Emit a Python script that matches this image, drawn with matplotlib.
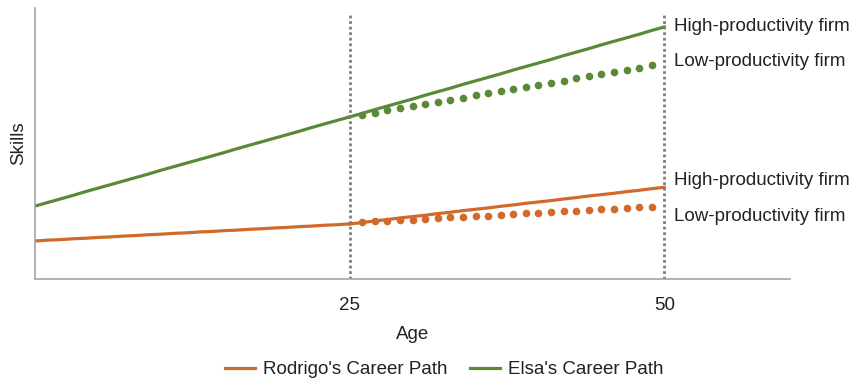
import matplotlib
matplotlib.use("Agg")
import matplotlib.pyplot as plt

plt.rcParams['font.family'] = ['Liberation Sans', 'DejaVu Sans']

# ages
ages_early = list(range(0, 26))
ages_late = list(range(25, 51))
ages_low = list(range(26, 50))

# Elsa (green)
elsa_early = [26.9, 28.2, 29.5, 30.8, 32.2, 33.5, 34.8, 36.1, 37.4, 38.7, 40.1, 41.4, 42.7,
              44.0, 45.3, 46.6, 48.0, 49.3, 50.6, 51.9, 53.2, 54.5, 55.9, 57.2, 58.5, 59.8]
elsa_high = [59.8, 61.1, 62.5, 63.8, 65.1, 66.4, 67.8, 69.1, 70.4, 71.8, 73.1, 74.4, 75.7,
             77.1, 78.4, 79.7, 81.0, 82.4, 83.7, 85.0, 86.4, 87.7, 89.0, 90.3, 91.7, 93.0]
elsa_low = [60.6, 61.4, 62.2, 63.0, 63.8, 64.6, 65.3, 66.1, 66.9, 67.7, 68.5, 69.3,
            70.1, 70.9, 71.7, 72.4, 73.2, 74.0, 74.8, 75.6, 76.4, 77.2, 78.0, 78.8]

# Rodrigo (orange)
rod_early = [14.0, 14.3, 14.5, 14.8, 15.0, 15.3, 15.5, 15.8, 16.0, 16.3, 16.5, 16.8, 17.0,
             17.3, 17.5, 17.8, 18.0, 18.3, 18.5, 18.8, 19.0, 19.3, 19.5, 19.8, 20.0, 20.3]
rod_high = [20.3, 20.8, 21.4, 21.9, 22.5, 23.0, 23.5, 24.1, 24.6, 25.2, 25.7, 26.2, 26.8,
            27.3, 27.9, 28.4, 28.9, 29.5, 30.0, 30.6, 31.1, 31.6, 32.2, 32.7, 33.3, 33.8]
rod_low = [20.9, 21.2, 21.4, 21.7, 21.9, 22.2, 22.4, 22.7, 22.9, 23.2, 23.4, 23.7,
           23.9, 24.2, 24.4, 24.7, 24.9, 25.2, 25.4, 25.7, 25.9, 26.2, 26.4, 26.7]

orange = '#D0692A'
green = '#5A8A35'
txt = '#222222'

fig = plt.figure(figsize=(8.56, 3.81), dpi=100)
ax = fig.add_axes([0.041, 0.268, 0.882, 0.711])

ax.plot(ages_early, rod_early, color=orange, lw=2.3, label="Rodrigo's Career Path")
ax.plot(ages_late, rod_high, color=orange, lw=2.3)
ax.plot(ages_low, rod_low, 'o', color=orange, ms=5.5, mew=0)

ax.plot(ages_early, elsa_early, color=green, lw=2.3, label="Elsa's Career Path")
ax.plot(ages_late, elsa_high, color=green, lw=2.3)
ax.plot(ages_low, elsa_low, 'o', color=green, ms=5.5, mew=0)

for a in (25, 50):
    ax.vlines(a, 0, 98, colors='#7f7f7f', linestyles=(0, (1, 1)), lw=2)

# end-of-line labels
labels = [(93, 'High-productivity firm'), (80.1, 'Low-productivity firm'),
          (36.5, 'High-productivity firm'), (23.2, 'Low-productivity firm')]
for y, t in labels:
    ax.text(50.8, y, t, fontsize=13.5, va='center', ha='left', color=txt, clip_on=False)

ax.set_xlim(0, 60)
ax.set_ylim(0, 100)
ax.set_xticks([25, 50])
ax.set_yticks([])
ax.tick_params(axis='x', length=0, labelsize=13.5, pad=13, labelcolor=txt)
ax.set_xlabel('Age', fontsize=13.5, color=txt, labelpad=9)
ax.set_ylabel('Skills', fontsize=13.5, color=txt, labelpad=6)

for s in ('top', 'right'):
    ax.spines[s].set_visible(False)
for s in ('left', 'bottom'):
    ax.spines[s].set_color('#a6a6a6')
    ax.spines[s].set_linewidth(1.2)

ax.legend(loc='upper center', bbox_to_anchor=(0.542, -0.255), ncol=2, frameon=False,
          fontsize=13.5, handlelength=1.6, columnspacing=1.2, handletextpad=0.45,
          labelcolor=txt, borderpad=0.2)

fig.savefig('out.png', dpi=100)
